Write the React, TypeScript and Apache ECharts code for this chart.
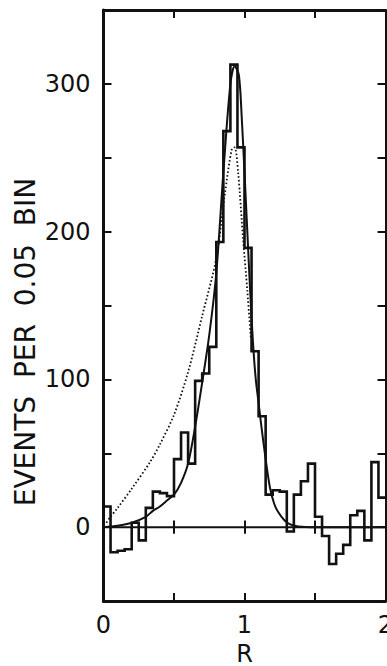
import { useEffect, useRef } from "react";
import * as echarts from "echarts";

// Histogram: events per 0.05 bin in R, bins starting at R = 0
const binWidth = 0.05;
const binCounts = [
  14, -17, -16, -15, 3, -9, 13, 24, 23, 21,
  46, 64, 43, 99, 104, 122, 193, 268, 313, 257,
  189, 119, 75, 22, 25, 24, -3, 22, 31, 43,
  7, -6, -25, -18, -12, 8, 11, -9, 44, 20,
];

// Fitted resonance curve (solid)
const fitR = [0, 0.1, 0.2, 0.3, 0.35, 0.4, 0.45, 0.5, 0.55, 0.6, 0.65, 0.7, 0.75, 0.8, 0.85, 0.9, 0.93, 0.96, 0.98, 1.0, 1.02, 1.04, 1.06, 1.08, 1.1, 1.12, 1.15, 1.18, 1.21, 1.24, 1.28, 1.32, 1.38, 1.5, 1.75, 2.0];
const fitV = [0, 1, 3, 7, 11, 14, 18, 22, 30, 43, 68, 98, 130, 172, 240, 300, 312, 306, 278, 240, 200, 160, 125, 100, 84, 68, 46, 27, 16, 10, 5, 2, 0.5, 0, 0, 0];

// Phase-space curve (dotted)
const dotR = [0.02, 0.05, 0.1, 0.2, 0.33, 0.4, 0.5, 0.6, 0.7, 0.8, 0.86, 0.91, 0.93, 0.955, 0.99, 1.02, 1.045];
const dotV = [3, 7, 13, 26, 44, 56, 76, 105, 143, 182, 225, 256, 257, 240, 195, 160, 128];

const xTickLabels = [0, 1, 2];
const yTickLabels = [0, 100, 200, 300];
const zeroLineTicks = [0.5, 1, 1.5];

const INK = "#111";
const FONT = "DejaVu Sans";

export default function App() {
  const ref = useRef<HTMLDivElement>(null);

  useEffect(() => {
    document.body.style.margin = "0";
    const chart = echarts.init(ref.current!, null, { renderer: "svg" });

    const histData = binCounts.map((c, i) => [i * binWidth, c]);
    histData.push([binCounts.length * binWidth, binCounts[binCounts.length - 1]]);

    const frameAxis = {
      axisLine: { show: true, onZero: false, lineStyle: { color: INK, width: 3 } },
      axisTick: { show: true, inside: true, length: 8, lineStyle: { color: INK, width: 2 } },
      splitLine: { show: false },
    };

    chart.setOption({
      animation: false,
      backgroundColor: "#fff",
      grid: { left: 103.5, top: 10, width: 282, height: 591, outerBoundsMode: "none" },
      xAxis: [
        {
          type: "value",
          position: "bottom",
          min: 0,
          max: 2,
          interval: 0.5,
          ...frameAxis,
          axisLabel: {
            margin: 12,
            color: INK,
            fontFamily: FONT,
            fontSize: 24,
            formatter: (v: number) => (xTickLabels.includes(v) ? String(v) : ""),
          },
          name: "R",
          nameLocation: "middle",
          nameGap: 52,
          nameTextStyle: {
            color: INK,
            fontFamily: FONT,
            fontSize: 24,
            lineHeight: 19,
            verticalAlign: "middle",
          },
        },
        {
          type: "value",
          position: "top",
          min: 0,
          max: 2,
          interval: 0.5,
          ...frameAxis,
          axisLabel: { show: false },
        },
      ],
      yAxis: [
        {
          type: "value",
          position: "left",
          min: -50,
          max: 350,
          interval: 50,
          ...frameAxis,
          axisLabel: {
            margin: 13,
            color: INK,
            fontFamily: FONT,
            fontSize: 24,
            formatter: (v: number) => (yTickLabels.includes(v) ? String(v) : ""),
          },
        },
        {
          type: "value",
          position: "right",
          min: -50,
          max: 350,
          interval: 50,
          ...frameAxis,
          axisLine: { show: true, onZero: false, lineStyle: { color: INK, width: 2 } },
          axisLabel: { show: false },
        },
      ],
      graphic: [
        {
          type: "text",
          x: 25,
          y: 342,
          rotation: Math.PI / 2,
          style: {
            text: "EVENTS  PER  0.05  BIN",
            font: `28px "${FONT}"`,
            fill: INK,
            textAlign: "center",
            textVerticalAlign: "middle",
          },
        },
      ],
      series: [
        {
          name: "zero",
          type: "line",
          data: [[0, 0], [2, 0]],
          symbol: "none",
          lineStyle: { color: INK, width: 2 },
          silent: true,
          markLine: {
            silent: true,
            symbol: ["none", "none"],
            label: { show: false },
            lineStyle: { color: INK, width: 2, type: "solid" },
            data: zeroLineTicks.map((t) => [
              { coord: [t, -4.5] },
              { coord: [t, 4.5] },
            ]),
          },
        },
        {
          name: "phase space",
          type: "line",
          data: dotR.map((r, i) => [r, dotV[i]]),
          symbol: "none",
          smooth: 0.3,
          lineStyle: { color: INK, width: 1.8, type: [1.6, 2.2] },
        },
        {
          name: "fit",
          type: "line",
          data: fitR.map((r, i) => [r, fitV[i]]),
          symbol: "none",
          smooth: 0.3,
          lineStyle: { color: INK, width: 2 },
        },
        {
          name: "events",
          type: "line",
          step: "end",
          data: histData,
          symbol: "none",
          lineStyle: { color: INK, width: 2.6, join: "miter" },
        },
      ],
    });

    return () => chart.dispose();
  }, []);

  return <div ref={ref} style={{ width: 387, height: 666 }} />;
}
